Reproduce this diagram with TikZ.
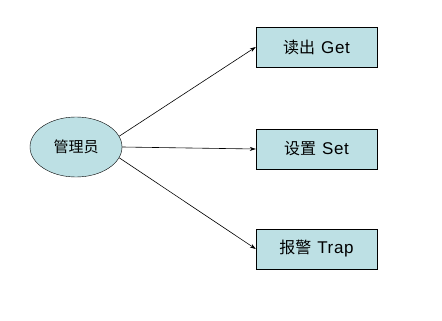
\documentclass[tikz,border=0pt]{standalone}
\usepackage{fontspec}
\setmainfont{Liberation Sans}
\newfontfamily\cjk{Noto Sans CJK SC}
\newfontfamily\latf[LetterSpace=4]{Liberation Sans}
\usetikzlibrary{shapes.geometric,arrows.meta}
\definecolor{fillc}{RGB}{189,224,228}
\tikzset{
  boxn/.style={draw=black, fill=fillc, minimum width=121pt, minimum height=40pt, inner sep=0pt, font=\fontsize{16pt}{18pt}\selectfont},
  elln/.style={ellipse, draw=black, fill=fillc, minimum width=92pt, minimum height=60pt, inner sep=0pt, font=\fontsize{15pt}{17pt}\selectfont},
  conn/.style={draw=black, line width=0.6pt, -{Stealth[length=6pt,width=4pt]}}
}
\begin{document}
\begin{tikzpicture}[x=1pt,y=-1pt]
\useasboundingbox (0,0) rectangle (442,321);
\node[elln] (e) at (76,147) {\cjk 管理员};
\node[boxn] (g) at (316.5,47) {\cjk 读出\hspace{6pt}{\fontsize{17pt}{18pt}\latf Get}};
\node[boxn] (s) at (316.5,149) {\cjk 设置\hspace{6pt}{\fontsize{17pt}{18pt}\latf Set}};
\node[boxn] (t) at (316.5,249) {\cjk 报警\hspace{6pt}{\fontsize{17pt}{18pt}\latf Trap}};
\draw[conn] (e.14) -- (g.west);
\draw[conn] (e.east) -- (s.west);
\draw[conn] (e.-14) -- (t.west);
\end{tikzpicture}
\end{document}
